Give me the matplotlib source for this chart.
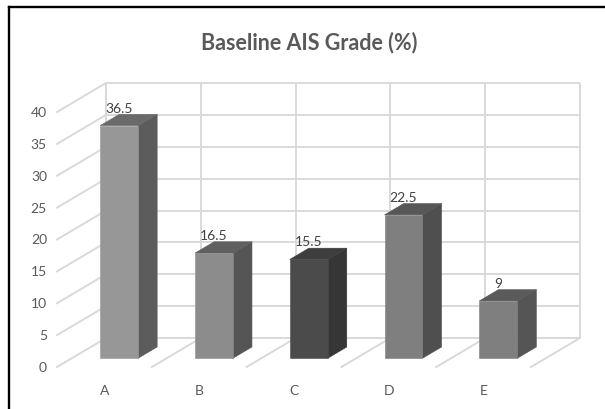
import matplotlib
matplotlib.use("Agg")
import matplotlib.pyplot as plt
from matplotlib.patches import Polygon
from matplotlib.lines import Line2D

plt.rcParams["font.family"] = ["Lato", "DejaVu Sans"]

# ── data ──────────────────────────────────────────
categories = ["A", "B", "C", "D", "E"]
values = [36.5, 16.5, 15.5, 22.5, 9]
value_ticks = list(range(0, 45, 5))

front_colors = ["#979797", "#8c8c8c", "#4b4b4b", "#7f7f7f", "#7f7f7f"]
side_colors = ["#5c5c5c", "#555555", "#363636", "#4f4f4f", "#555555"]
top_colors = ["#6a6a6a", "#606060", "#3e3e3e", "#575757", "#5a5a5a"]

# ── fake 3D (oblique) geometry ────────────────────
W, H = 605, 410
DX = 49 / 474 * len(categories)   # depth shift in category units
DV = 29 / 255 * 40                # depth shift in value units
D_FRONT, D_BACK = 0.70, 0.31      # bar depth range (0 = back wall, 1 = front)
HALF_W = 0.2
GRID = "#d9d9d9"
GRID_LW = 1.4
LABEL_SIZE = 10


def proj(x, v, d):
    return (x - d * DX, v - d * DV)


fig = plt.figure(figsize=(W / 100, H / 100), dpi=100, facecolor="white")
ax = fig.add_axes([106 / W, 71 / H, 474 / W, 255 / H])
ax.set_xlim(0, len(categories))
ax.set_ylim(0, 40)
ax.axis("off")

# back wall grid
ax.hlines(value_ticks, 0, len(categories), color=GRID, lw=GRID_LW, clip_on=False, zorder=1)
ax.vlines(range(len(categories) + 1), 0, 40, color=GRID, lw=GRID_LW, clip_on=False, zorder=1)

# side wall diagonals + value labels
for v in value_ticks:
    p0, p1 = proj(0, v, 0), proj(0, v, 1)
    ax.plot([p0[0], p1[0]], [p0[1], p1[1]], color=GRID, lw=GRID_LW, clip_on=False, zorder=1)
    ax.annotate(str(v), xy=p1, xytext=(-10, 0), textcoords="offset pixels",
                ha="right", va="center", fontsize=LABEL_SIZE, color="#595959",
                annotation_clip=False)

# floor diagonals
for x in range(1, len(categories) + 1):
    p0, p1 = proj(x, 0, 0), proj(x, 0, 1)
    ax.plot([p0[0], p1[0]], [p0[1], p1[1]], color=GRID, lw=GRID_LW, clip_on=False, zorder=1)

# bars
for i, (cat, v) in enumerate(zip(categories, values)):
    x0, x1 = i + 0.5 - HALF_W, i + 0.5 + HALF_W
    front = [proj(x0, 0, D_FRONT), proj(x1, 0, D_FRONT),
             proj(x1, v, D_FRONT), proj(x0, v, D_FRONT)]
    side = [proj(x1, 0, D_FRONT), proj(x1, 0, D_BACK),
            proj(x1, v, D_BACK), proj(x1, v, D_FRONT)]
    top = [proj(x0, v, D_FRONT), proj(x1, v, D_FRONT),
           proj(x1, v, D_BACK), proj(x0, v, D_BACK)]
    for pts, c in ((side, side_colors[i]), (top, top_colors[i]), (front, front_colors[i])):
        ax.add_patch(Polygon(pts, closed=True, facecolor=c, edgecolor=c,
                             lw=0.4, clip_on=False, zorder=3))
    ax.annotate(f"{v:g}", xy=proj(i + 0.5, v, D_FRONT), xytext=(0, 18),
                textcoords="offset pixels", ha="center", va="center",
                fontsize=LABEL_SIZE, color="#404040", annotation_clip=False, zorder=4)
    ax.annotate(cat, xy=proj(i + 0.5, 0, 1), xytext=(0, -23),
                textcoords="offset pixels", ha="center", va="center",
                fontsize=LABEL_SIZE, color="#595959", annotation_clip=False)

# title
fig.text(309.5 / W, 1 - 49 / H, "Baseline AIS Grade (%)", ha="center",
         va="baseline", fontsize=15.5, fontweight="bold", color="#595959")

# outer frame (top and left edges visible)
fig.add_artist(Line2D([9 / W, 1.01], [1 - 8 / H, 1 - 8 / H], color="black",
                      lw=1.7, transform=fig.transFigure))
fig.add_artist(Line2D([9 / W, 9 / W], [1 - 8 / H, -0.01], color="black",
                      lw=1.7, transform=fig.transFigure))

fig.savefig("out.png", dpi=100, facecolor="white")
